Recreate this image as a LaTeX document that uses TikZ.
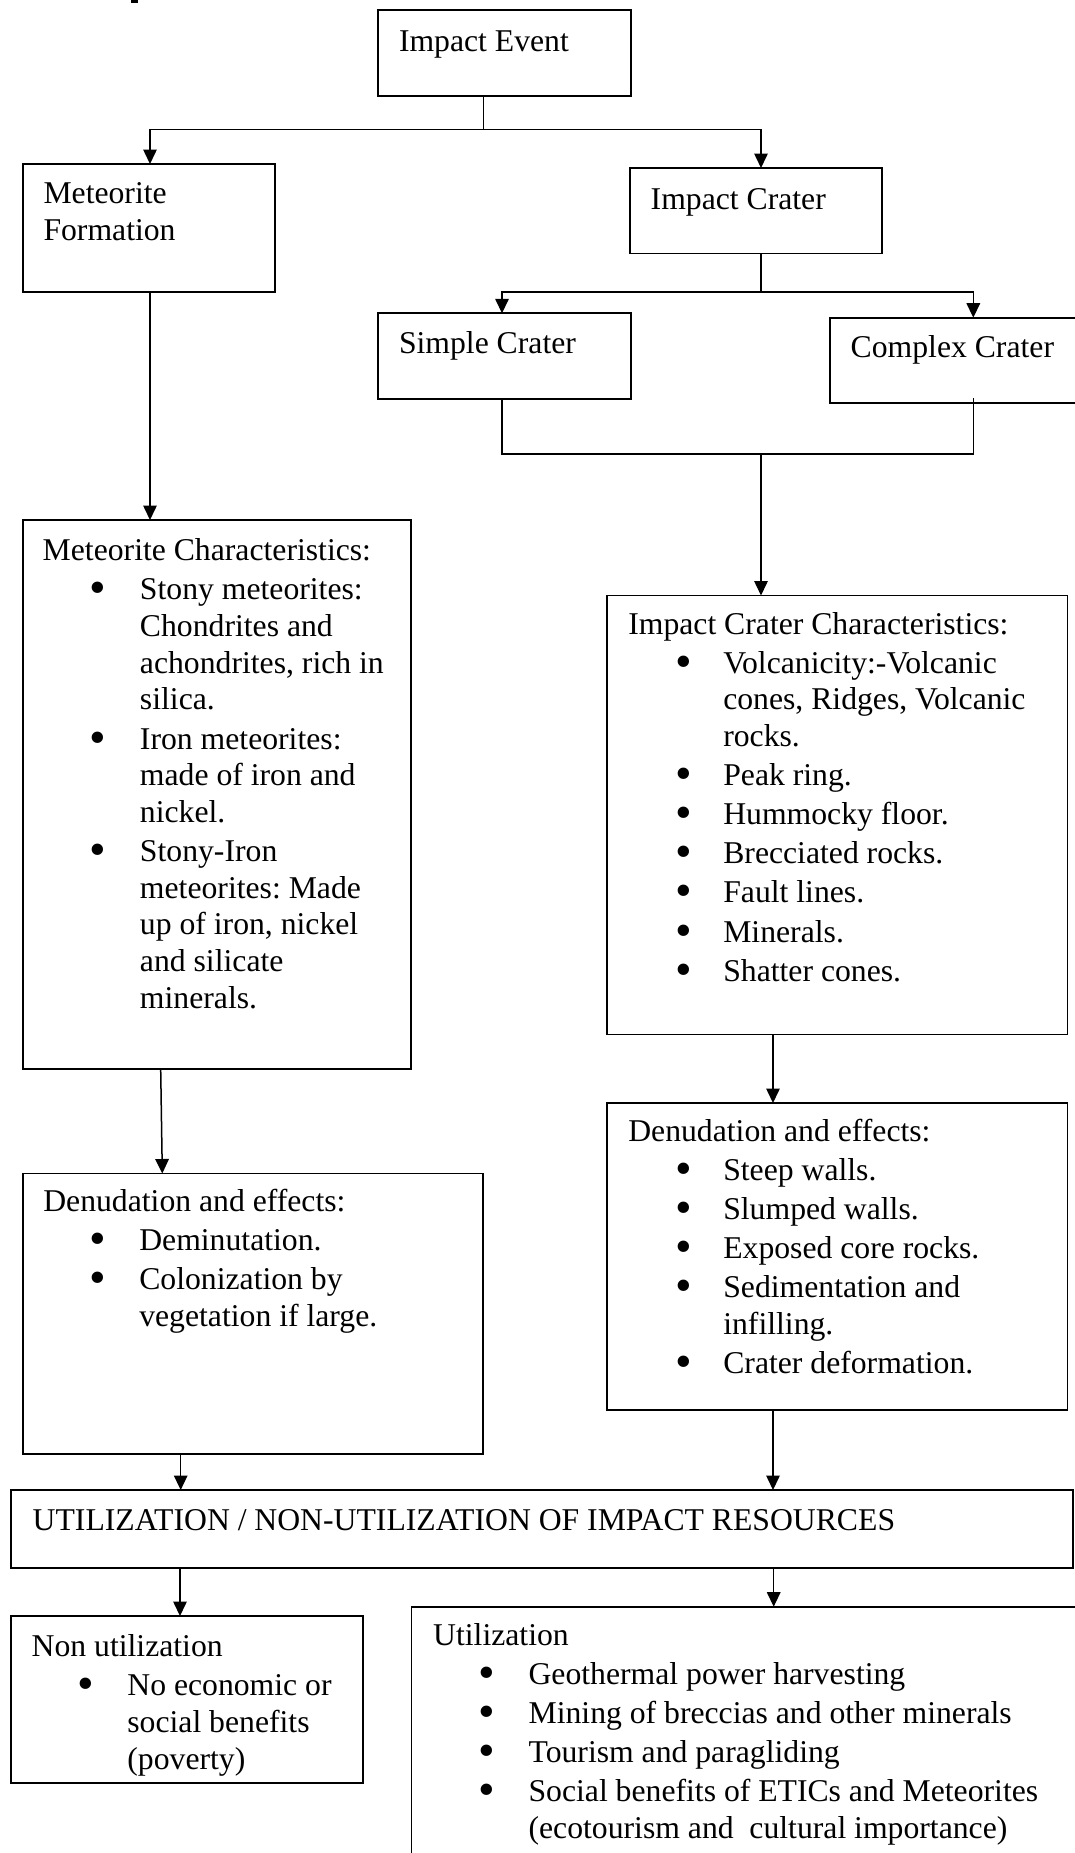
\documentclass[tikz,border=0pt]{standalone}
\usepackage{fontspec}
\usepackage{graphicx}
\setmainfont{Liberation Serif}
\usetikzlibrary{arrows.meta}
\newcommand\boxfont{\fontsize{31.7pt}{36.7pt}\selectfont\raggedright\spaceskip=7.9pt plus 4pt minus 1pt\relax\xspaceskip=7.9pt plus 4pt minus 1pt\relax}
\newlength\bli
\newlength\blg
\newcommand\setbl[2]{\setlength\bli{#1}\setlength\blg{#2}}
\newcommand\bl[1]{\par\vspace{2.4pt}\leftskip=\bli\relax\noindent\llap{\raisebox{-4pt}{\scalebox{1.5}{\textbullet}}\hspace{\blg}}#1}
\begin{document}
\begin{tikzpicture}[x=1pt,y=-1pt,
  box/.style={draw, line width=1.7pt, inner sep=0pt, outer sep=0pt, anchor=north west},
  txt/.style={anchor=base west, inner sep=0pt, outer sep=0pt, text width=1000pt},
  con/.style={line width=1.5pt},
  arr/.style={line width=1.5pt, -{Triangle[width=13.5pt,length=14.5pt]}}]
\useasboundingbox (0,0) rectangle (1075,1853);
\fill[white] (0,0) rectangle (1075,1853);
% small cut-off mark at the top edge
\fill[black] (131,0) rectangle (138,2.5);

% boxes
\node[box, minimum width=253pt, minimum height=86pt] (ev) at (378,10) {};
\node[box, minimum width=252.3pt, minimum height=128.3pt] (mf) at (22.7,164) {};
\node[box, minimum width=252.3pt, minimum height=85.5pt] (ic) at (630,168) {};
\node[box, minimum width=253pt, minimum height=85.4pt] (sc) at (378,313.3) {};
\node[box, minimum width=260pt, minimum height=85pt] (cc) at (830,317.7) {};
\node[box, minimum width=388.3pt, minimum height=549.3pt] (mc) at (22.7,520) {};
\node[box, minimum width=460.5pt, minimum height=439pt] (icc) at (607,595.5) {};
\node[box, minimum width=460.3pt, minimum height=280.5pt] (ld) at (22.7,1173.5) {};
\node[box, minimum width=460.5pt, minimum height=307pt] (rd) at (607,1103) {};
\node[box, minimum width=1062pt, minimum height=77.7pt] (ut) at (11,1490) {};
\node[box, minimum width=352.3pt, minimum height=166.7pt] (nu) at (11,1616) {};
\node[box, minimum width=700pt, minimum height=300pt] (uz) at (411.5,1606.7) {};

% texts
\node[txt] (evt) at (399,51) {\boxfont Impact Event\par};
\node[txt] (mft) at (43.5,203.3) {\boxfont Meteorite\newline Formation\par};
\node[txt] (ict) at (650.7,209) {\boxfont Impact Crater\par};
\node[txt] (sct) at (399,353.3) {\boxfont Simple Crater\par};
\node[txt] (cct) at (850.7,357.3) {\boxfont Complex Crater\par};
\node[txt] (mct) at (42.7,560.7) {\boxfont\setbl{97.3pt}{34pt}Meteorite Characteristics:%
  \bl{Stony meteorites:\newline Chondrites and\newline achondrites, rich in\newline silica.}%
  \bl{Iron meteorites:\newline made of iron and\newline nickel.}%
  \bl{Stony-Iron\newline meteorites: Made\newline up of iron, nickel\newline and silicate\newline minerals.}\par};
\node[txt] (icct) at (628.3,634) {\boxfont\setbl{95pt}{31pt}Impact Crater Characteristics:%
  \bl{Volcanicity:-Volcanic\newline cones, Ridges, Volcanic\newline rocks.}%
  \bl{Peak ring.}%
  \bl{Hummocky floor.}%
  \bl{Brecciated rocks.}%
  \bl{Fault lines.}%
  \bl{Minerals.}%
  \bl{Shatter cones.}\par};
\node[txt] (ldt) at (43.3,1211.5) {\boxfont\setbl{96pt}{33.5pt}Denudation and effects:%
  \bl{Deminutation.}%
  \bl{Colonization by\newline vegetation if large.}\par};
\node[txt] (rdt) at (628.3,1141.5) {\boxfont\setbl{95pt}{31pt}Denudation and effects:%
  \bl{Steep walls.}%
  \bl{Slumped walls.}%
  \bl{Exposed core rocks.}%
  \bl{Sedimentation and\newline infilling.}%
  \bl{Crater deformation.}\par};
\node[txt] (utt) at (32.7,1530) {\boxfont UTILIZATION / NON-UTILIZATION OF IMPACT RESOURCES\par};
\node[txt] (nut) at (31.7,1656.7) {\boxfont\setbl{95.7pt}{33.3pt}Non utilization%
  \bl{No economic or\newline social benefits\newline (poverty)}\par};
\node[txt] (uzt) at (433.2,1645) {\boxfont\setbl{95.4pt}{33.2pt}Utilization%
  \bl{Geothermal power harvesting}%
  \bl{Mining of breccias and other minerals}%
  \bl{Tourism and paragliding}%
  \bl{Social benefits of ETICs and Meteorites\newline (ecotourism and\ \ cultural importance)}\par};

% connectors
\coordinate (b1) at (483.4,129.3);
\draw[con] ([xshift=105.4pt]ev.south west) -- (b1);
\draw[arr] (b1) -| ([xshift=127.3pt]mf.north west);
\draw[arr] (b1) -| ([xshift=131pt]ic.north west);

\coordinate (b2) at (761,292);
\draw[con] ([xshift=131pt]ic.south west) -- (b2);
\draw[arr] (b2) -| ([xshift=124pt]sc.north west);
\draw[arr] (b2) -| ([xshift=143.3pt]cc.north west);

\coordinate (b3) at (761,454);
\draw[con] ([xshift=124pt]sc.south west) -- ++(0,55.3) -| ([xshift=143.3pt,yshift=4.7pt]cc.south west);
\draw[arr] (b3) -- ([xshift=154pt]icc.north west);

\draw[arr] ([xshift=127.3pt]mf.south west) -- ([xshift=127.3pt]mc.north west);
\draw[arr] ([xshift=138pt]mc.south west) -- ([xshift=139.6pt]ld.north west);
\draw[arr] ([xshift=166pt]icc.south west) -- ([xshift=166pt]rd.north west);
\draw[arr] ([xshift=158pt]ld.south west) -- ([xshift=169.7pt]ut.north west);
\draw[arr] ([xshift=166pt]rd.south west) -- ([xshift=762pt]ut.north west);
\draw[arr] ([xshift=169pt]ut.south west) -- ([xshift=169pt]nu.north west);
\draw[arr] ([xshift=762.7pt]ut.south west) -- ([xshift=362.2pt]uz.north west);
\end{tikzpicture}
\end{document}
